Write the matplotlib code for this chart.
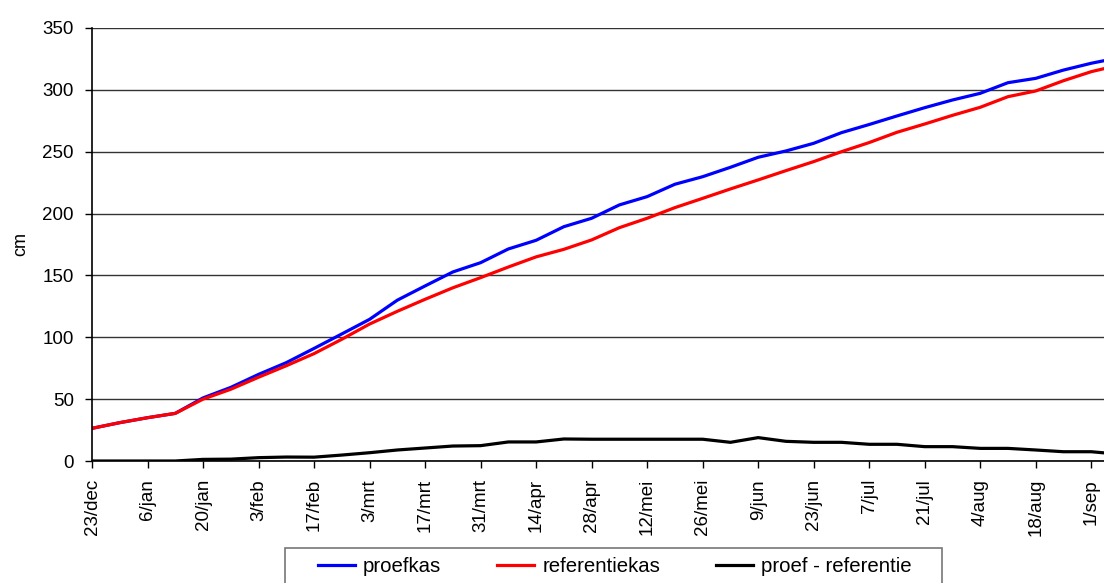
import numpy as np
import matplotlib
matplotlib.use("Agg")
import matplotlib.pyplot as plt
from matplotlib.patches import Rectangle

plt.rcParams['font.family'] = ['Liberation Sans', 'DejaVu Sans']

# weekly measurements, starting 23/dec
proefkas = [26.4, 31, 35, 38.5, 51, 59.5, 70, 79.5, 91, 102.7, 114.5, 130, 141.5,
            152.8, 160.3, 171.4, 178.4, 189.4, 196.2, 207, 213.7, 223.7, 229.8,
            237.4, 245.5, 250.6, 256.8, 265.4, 272, 278.9, 285.6, 291.8, 297.2,
            305.8, 309.3, 316, 321.5, 326]
referentiekas = [26.4, 31, 35, 38.5, 50, 58, 67.7, 77, 86.8, 98.4, 110.7, 121, 130.7,
                 140, 148.2, 156.8, 165, 171.1, 178.7, 188.6, 196.2, 204.8, 212.3,
                 219.9, 227.2, 234.7, 242, 250, 257.4, 265.7, 272.4, 279.4, 285.9,
                 294.5, 299.1, 307.4, 314.7, 320]
verschil = [0, 0, 0, 0, 1.3, 1.5, 2.7, 3.2, 3.1, 4.8, 6.7, 8.9, 10.5, 12.1, 12.4,
            15.4, 15.4, 17.8, 17.6, 17.6, 17.6, 17.6, 17.6, 15.1, 18.9, 15.9, 15.1,
            15.1, 13.5, 13.5, 11.6, 11.6, 10.2, 10.2, 8.9, 7.5, 7.5, 5.5]

tick_labels = ['23/dec', '6/jan', '20/jan', '3/feb', '17/feb', '3/mrt', '17/mrt',
               '31/mrt', '14/apr', '28/apr', '12/mei', '26/mei', '9/jun', '23/jun',
               '7/jul', '21/jul', '4/aug', '18/aug', '1/sep']

weeks = np.arange(len(proefkas))

W, H = 1104, 583
fig = plt.figure(figsize=(W/100, H/100), dpi=100)
ax = fig.add_axes([92/W, 122/H, 1027/W, 433/H])

ax.plot(weeks, proefkas, color='#0000ff', lw=2.3, label='proefkas')
ax.plot(weeks, referentiekas, color='#ff0000', lw=2.3, label='referentiekas')
ax.plot(weeks, verschil, color='black', lw=2.3, label='proef - referentie')

ax.set_xlim(0, 37)
ax.set_ylim(0, 350)
ax.set_yticks(np.arange(0, 351, 50))
ax.set_xticks(np.arange(0, 2*len(tick_labels), 2))
ax.set_xticklabels(tick_labels, rotation=90)
ax.tick_params(axis='both', direction='out', length=5, width=1, labelsize=13.5,
               colors='black')
ax.tick_params(axis='x', pad=8)
ax.tick_params(axis='y', pad=8)
ax.yaxis.grid(True, color='#333333', lw=1)
ax.set_axisbelow(True)
for s in ['top', 'right']:
    ax.spines[s].set_visible(False)
for s in ['left', 'bottom']:
    ax.spines[s].set_color('black')
    ax.spines[s].set_linewidth(1.2)
ax.set_ylabel('cm', fontsize=13)
ax.yaxis.set_label_coords(-0.061, 0.5)

# legend (frame drawn separately, it runs off the bottom of the picture)
leg = fig.legend(loc='center', bbox_to_anchor=(615/W, 1 - 567/H), ncol=3,
                 fontsize=14.7, frameon=False, handlelength=1.8,
                 columnspacing=2.75, handletextpad=0.4, borderpad=0.3)
fig.patches.append(Rectangle((285/W, -0.05), 657/W, 0.05 + 35/H,
                             transform=fig.transFigure, fill=False,
                             edgecolor='#777777', lw=1.2))

fig.savefig('out.png', dpi=100)
